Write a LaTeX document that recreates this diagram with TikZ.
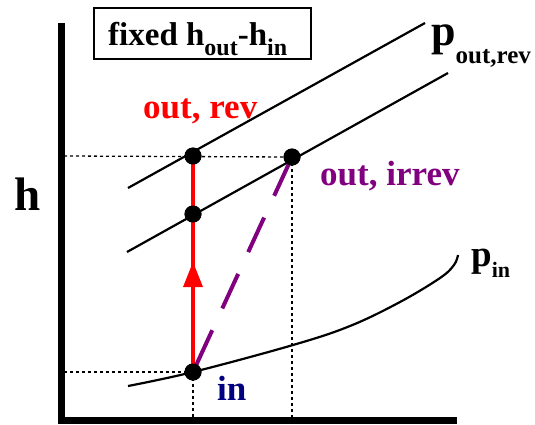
\documentclass[tikz,border=0pt]{standalone}
\usepackage{fontspec}
\setmainfont{Liberation Serif}
\usetikzlibrary{arrows.meta,decorations.markings}
\newcommand{\fs}[1]{\fontsize{#1}{#1}\selectfont}
\newcommand{\subtx}[3]{\raisebox{-#2pt}{\fs{#1}#3}}
\begin{document}
\begin{tikzpicture}[x=1pt,y=-1pt,
  axis/.style={line width=7pt},
  curve/.style={line width=2.2pt},
  guide/.style={line width=1.3pt,dash pattern=on 3pt off 3pt},
  dot/.style={circle,fill=black,inner sep=0pt,minimum size=17pt},
  lbl/.style={inner sep=0pt,anchor=base west,font=\bfseries}]
\useasboundingbox (0,0) rectangle (535,424);
% axes
\coordinate (ytop) at (61,23);
\coordinate (orig) at (61,420.5);
\coordinate (xend) at (457,420.5);
\draw[axis] (ytop) -- (61,424);
\draw[axis] (57.5,420.5) -- (xend);
% guide points
\coordinate (yin) at (64,372);
\coordinate (yout) at (64,156);
\coordinate (xin) at (193,418);
\coordinate (xirr) at (292,418);
% dots
\node[dot] (in) at (193,372) {};
\node[dot] (outrev) at (193,156) {};
\node[dot] (mid) at (193,214) {};
\node[dot] (outirr) at (292,157) {};
% dotted guides
\draw[guide] (yin) -- (in.center);
\draw[guide] (in.center) -- (xin);
\draw[guide] (yout) -- (outirr.center);
\draw[guide] (outirr.center) -- (xirr);
% isobars
\coordinate (a1) at (128,188);
\coordinate (a2) at (425,23);
\coordinate (b1) at (127,252);
\coordinate (b2) at (448,73);
\draw[curve] (a1) -- (a2);
\draw[curve] (b1) -- (b2);
\draw[curve] plot[smooth,tension=0.6] coordinates {(128,386) (193,372) (293,345) (350,326) (400,302) (440,278) (454,265) (458,255)};
% red reversible path
\draw[red,line width=4pt] (in.center) -- (outrev.center);
\fill[red] (193,262) -- (203,287) -- (183,287) -- cycle;
% purple irreversible
\draw[color={rgb,255:red,128;green,0;blue,128},line width=4pt,dash pattern=on 38pt off 24pt,dash phase=-8pt] (in.center) -- (outirr.center);
% dots on top
\node[dot] at (in) {};
\node[dot] at (outrev) {};
\node[dot] at (mid) {};
\node[dot] at (outirr) {};
% labels
\node[draw,line width=2pt,minimum width=217pt,minimum height=51pt,inner sep=0pt,anchor=north west] (box) at (93,7) {};
\node[lbl] (boxtxt) at (108,45) {\fs{33}fixed h\subtx{24}{10}{out}-h\subtx{24}{10}{in}};
\node[lbl] (hlbl) at (14,210) {\fs{47}h};
\node[lbl] (pout) at (431,45) {\fs{44}p\subtx{25}{18}{out,rev}};
\node[lbl] (pin) at (471,266) {\fs{37}p\subtx{22}{11}{in}};
\node[lbl,red] (revlbl) at (143,118) {\fs{35}out, rev};
\node[lbl,text={rgb,255:red,128;green,0;blue,128}] (irrlbl) at (320,185) {\fs{35}out, irrev};
\node[lbl,text={rgb,255:red,0;green,0;blue,128}] (inlbl) at (217,400) {\fs{35}in};
\end{tikzpicture}
\end{document}
